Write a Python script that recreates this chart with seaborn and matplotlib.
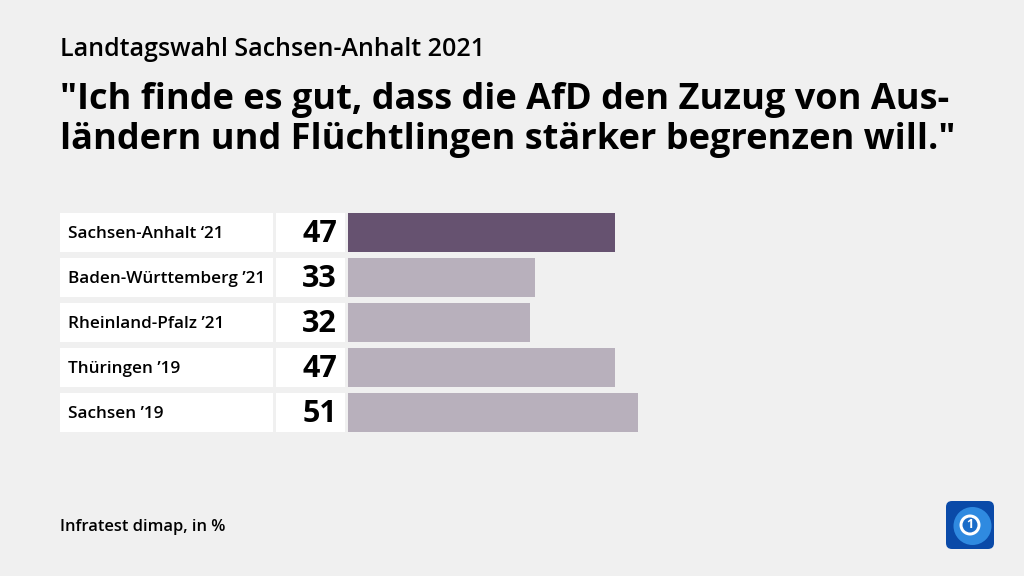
import matplotlib
matplotlib.use("Agg")
import matplotlib.pyplot as plt
import seaborn as sns
import pandas as pd
from matplotlib.patches import Rectangle, FancyBboxPatch, Circle
from matplotlib.transforms import blended_transform_factory

categories = ["Sachsen-Anhalt \u201821", "Baden-W\u00fcrttemberg \u201921", "Rheinland-Pfalz \u201921",
              "Th\u00fcringen \u201919", "Sachsen \u201919"]
values = [47, 33, 32, 47, 51]
bar_colors = ["#665270", "#b8b0bc", "#b8b0bc", "#b8b0bc", "#b8b0bc"]

title_small = "Landtagswahl Sachsen-Anhalt 2021"
title_main = "\"Ich finde es gut, dass die AfD den Zuzug von Aus-\nl\u00e4ndern und Fl\u00fcchtlingen st\u00e4rker begrenzen will.\""
source = "Infratest dimap, in %"

sns.set_theme(style="white")
plt.rcParams['font.family'] = ['Open Sans', 'DejaVu Sans']

BG = "#f0f0f0"
W, H = 1024, 576
fig = plt.figure(figsize=(W / 100, H / 100), dpi=100, facecolor=BG)

# axes: bars start at x=348 px, 5.68 px per unit; rows from y=210 to 435
x0, x1 = 348, 348 + 5.68 * 100
y_top, y_bot = 210, 435
ax = fig.add_axes([x0 / W, 1 - y_bot / H, (x1 - x0) / W, (y_bot - y_top) / H])
ax.set_facecolor(BG)

df = pd.DataFrame({"cat": categories, "val": values})
sns.barplot(data=df, x="val", y="cat", hue="cat", palette=bar_colors, legend=False,
            orient="h", width=0.88, ax=ax, saturation=1, linewidth=0)
ax.set_xlim(0, 100)
ax.set_ylim(len(categories) - 0.5, -0.5)
ax.axis("off")

# label boxes and value boxes
tr = blended_transform_factory(fig.transFigure, ax.transData)
for i, (c, v) in enumerate(zip(categories, values)):
    ax.add_patch(Rectangle((60 / W, i - 0.44), (273 - 60) / W, 0.88, transform=tr,
                           facecolor="white", edgecolor="none", clip_on=False))
    ax.add_patch(Rectangle((276 / W, i - 0.44), (345 - 276) / W, 0.88, transform=tr,
                           facecolor="white", edgecolor="none", clip_on=False))
    ax.text(68 / W, i + 0.03, c, transform=tr, ha="left", va="center", fontsize=12.3,
            fontweight="semibold", color="black")
    ax.text(337 / W, i + 0.03, str(v), transform=tr, ha="right", va="center", fontsize=22,
            fontweight="bold", color="black")

fig.text(60 / W, 1 - 50 / H, title_small, ha="left", va="center", fontsize=18,
         fontweight="semibold", color="black")
fig.text(60 / W, 1 - 120 / H, title_main, ha="left", va="center", fontsize=26,
         fontweight="bold", color="black", linespacing=1.12)
fig.text(60 / W, 1 - 527 / H, source, ha="left", va="center", fontsize=11.9,
         fontweight="semibold", color="black")

# logo
lx, ly, ls = 945 / W, 1 - 550 / H, 50
logo_ax = fig.add_axes([lx, ly, ls / W, ls / H])
logo_ax.set_xlim(0, 1); logo_ax.set_ylim(0, 1); logo_ax.axis("off")
logo_ax.add_patch(FancyBboxPatch((0.02, 0.02), 0.96, 0.96, boxstyle="round,pad=0,rounding_size=0.12",
                                 facecolor="#0a4aa8", edgecolor="none"))
logo_ax.add_patch(Circle((0.55, 0.48), 0.38, facecolor="#2f8ae0", edgecolor="none"))
logo_ax.add_patch(Circle((0.5, 0.5), 0.21, facecolor="white", edgecolor="none"))
logo_ax.add_patch(Circle((0.5, 0.5), 0.15, facecolor="#1a6cc8", edgecolor="none"))
logo_ax.text(0.5, 0.5, "1", ha="center", va="center", fontsize=9, fontweight="bold", color="white")

fig.savefig("out.png", dpi=100, facecolor=BG)
